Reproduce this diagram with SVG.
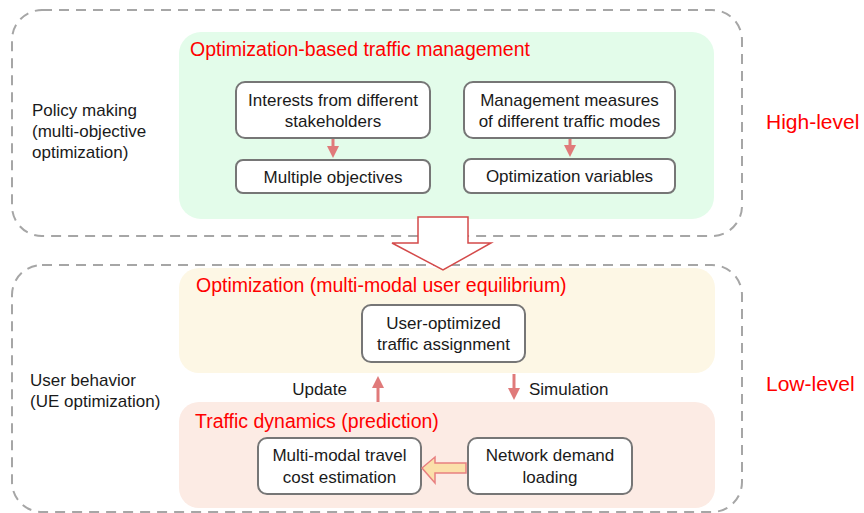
<svg xmlns="http://www.w3.org/2000/svg" width="864" height="513" viewBox="0 0 864 513">
<style>
text{font-family:"Liberation Sans",Arial,sans-serif;}
.outer{fill:none;stroke:#a6a6a6;stroke-width:2;stroke-dasharray:10 7;}
.node rect{fill:#fff;stroke:#767676;stroke-width:2;}
.node text{font-size:17px;fill:#1a1a1a;text-anchor:middle;}
.title{font-size:19.5px;fill:#ff0000;}
.level{font-size:21px;fill:#ff0000;}
.lbl{font-size:17px;fill:#1a1a1a;}
.conn{stroke:#e07a7a;stroke-width:3;fill:none;}
</style>
<defs>
<marker id="ah" markerWidth="4" markerHeight="4" refX="2" refY="2" orient="auto" markerUnits="strokeWidth">
<path d="M0,0 L4,2 L0,4 Z" fill="#e07a7a"/>
</marker>
</defs>
<g id="high-level">
<rect class="outer" x="12" y="10" width="730" height="226" rx="30"/>
<text class="lbl" x="32" y="116">Policy making</text>
<text class="lbl" x="32" y="137">(multi-objective</text>
<text class="lbl" x="32" y="158">optimization)</text>
<text class="level" x="766" y="129">High-level</text>
</g>
<g id="low-level">
<rect class="outer" x="12" y="265" width="730" height="247" rx="30"/>
<text class="lbl" x="30" y="386">User behavior</text>
<text class="lbl" x="30" y="407">(UE optimization)</text>
<text class="level" x="766" y="391">Low-level</text>
</g>
<g id="opt-mgmt">
<rect x="179" y="32" width="535" height="187" rx="22" fill="#e3fcea"/>
<text class="title" x="190" y="56">Optimization-based traffic management</text>
</g>
<g id="ue">
<rect x="179" y="268" width="536" height="105" rx="20" fill="#fdf7e5"/>
<text class="title" x="196" y="292">Optimization (multi-modal user equilibrium)</text>
</g>
<g id="dyn">
<rect x="179" y="402" width="536" height="106" rx="20" fill="#fcebe4"/>
<text class="title" x="195" y="428">Traffic dynamics (prediction)</text>
</g>
<g id="interests" class="node">
<rect x="236" y="82" width="194" height="56" rx="9"/>
<text x="333" y="106">Interests from different</text>
<text x="333" y="127">stakeholders</text>
</g>
<g id="objectives" class="node">
<rect x="236" y="160" width="194" height="33" rx="7"/>
<text x="333" y="183">Multiple objectives</text>
</g>
<g id="measures" class="node">
<rect x="464" y="82" width="211" height="56" rx="9"/>
<text x="569.5" y="106">Management measures</text>
<text x="569.5" y="127">of different traffic modes</text>
</g>
<g id="variables" class="node">
<rect x="464" y="159" width="211" height="34" rx="7"/>
<text x="569.5" y="182">Optimization variables</text>
</g>
<g id="assignment" class="node">
<rect x="362" y="305" width="163" height="57" rx="9"/>
<text x="443.5" y="329">User-optimized</text>
<text x="443.5" y="350">traffic assignment</text>
</g>
<g id="cost" class="node">
<rect x="258" y="438" width="163" height="56" rx="9"/>
<text x="339.5" y="461">Multi-modal travel</text>
<text x="339.5" y="483">cost estimation</text>
</g>
<g id="loading" class="node">
<rect x="468" y="438" width="164" height="56" rx="9"/>
<text x="550" y="461">Network demand</text>
<text x="550" y="483">loading</text>
</g>
<g id="connectors">
<line class="conn" x1="333" y1="139" x2="333" y2="152" marker-end="url(#ah)"/>
<line class="conn" x1="570" y1="139" x2="570" y2="151" marker-end="url(#ah)"/>
<line class="conn" x1="378" y1="402" x2="378" y2="382" marker-end="url(#ah)"/>
<line class="conn" x1="514" y1="374" x2="514" y2="394" marker-end="url(#ah)"/>
<path d="M418,217 L468,217 L468,243 L491,243 L443,270 L392,243 L418,243 Z" fill="#fff" stroke="#d44a4a" stroke-width="1.5"/>
<path d="M466,463 L435,463 L435,457 L422,468 L435,483 L435,473 L466,473 Z" fill="#fbe0aa" stroke="#e88080" stroke-width="1.5"/>
<text class="lbl" x="347" y="395" text-anchor="end">Update</text>
<text class="lbl" x="529" y="395">Simulation</text>
</g>
</svg>
